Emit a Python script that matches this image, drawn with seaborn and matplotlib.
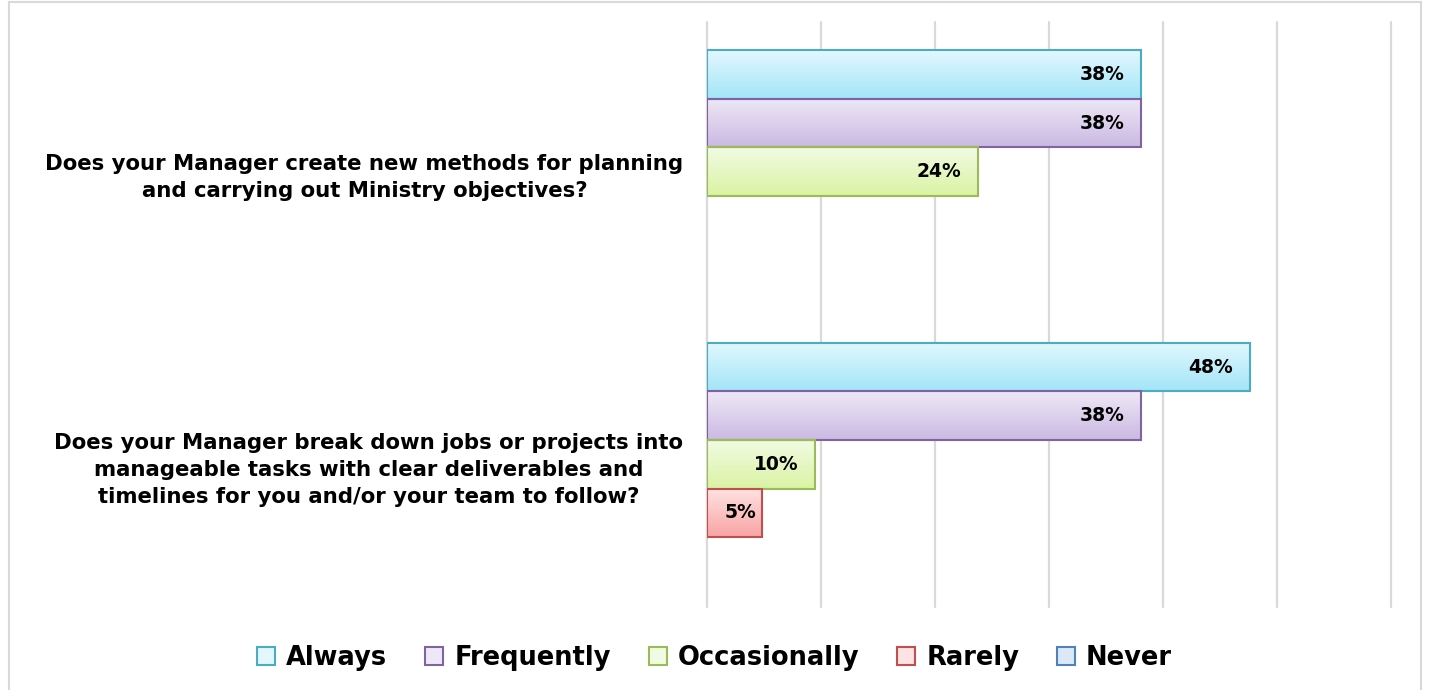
import numpy as np
import pandas as pd
import matplotlib
matplotlib.use("Agg")
import matplotlib.pyplot as plt
from matplotlib.patches import Patch, Rectangle
from matplotlib.colors import to_rgb
import seaborn as sns

questions = [
    "Does your Manager create new methods for planning\nand carrying out Ministry objectives?",
    "Does your Manager break down jobs or projects into\nmanageable tasks with clear deliverables and\ntimelines for you and/or your team to follow?",
]
responses = ["Always", "Frequently", "Occasionally", "Rarely", "Never"]
q1_values = [38.1, 38.1, 23.8, 0.0, 0.0]
q2_values = [47.6, 38.1, 9.5, 4.8, 0.0]

edge_colors = ["#4BACC6", "#8064A2", "#9BBB59", "#C0504D", "#4F81BD"]
top_colors = ["#E2F8FE", "#EEE8F6", "#F1FBE3", "#FFE3E3", "#DCE8F8"]
bottom_colors = ["#A3E5F8", "#CBB9E2", "#DAF3A3", "#F8A4A4", "#B3CCEE"]

df = pd.DataFrame({
    "question": np.repeat(questions, len(responses)),
    "response": responses * len(questions),
    "value": q1_values + q2_values,
})

sns.set_theme(style="white")
plt.rcParams["font.family"] = ["DejaVu Sans"]
plt.rcParams["text.color"] = "black"

fig = plt.figure(figsize=(14.29, 6.9), dpi=100)
ax = fig.add_axes([707 / 1429, 1 - 607 / 690, (1391 - 707) / 1429, (607 - 22) / 690])

pal = dict(zip(responses, top_colors))
sns.barplot(data=df, y="question", x="value", hue="response", hue_order=responses,
            order=questions, orient="h", palette=pal, width=0.83, gap=0,
            ax=ax, legend=False, errorbar=None, saturation=1)

ax.set_xlim(0, 60)
ylim = ax.get_ylim()
ax.set_ylim(ylim[0] - 0.012, ylim[1] - 0.012)
ylim = ax.get_ylim()

# gradient fills clipped to each bar
for cont, tc, bc, ec in zip(ax.containers, top_colors, bottom_colors, edge_colors):
    for bar in cont:
        w = bar.get_width()
        if w <= 0:
            bar.set_visible(False)
            continue
        x0, y0, h = bar.get_x(), bar.get_y(), bar.get_height()
        t = np.linspace(0, 1, 64)[:, None]
        grad = (1 - t) * np.array(to_rgb(tc)) + t * np.array(to_rgb(bc))
        img = ax.imshow(grad[:, None, :], extent=[x0, x0 + w, y0 + h, y0],
                        origin="upper", aspect="auto", zorder=2, interpolation="bilinear")
        img.set_clip_path(bar)
        bar.set_facecolor("none")
        bar.set_edgecolor(ec)
        bar.set_linewidth(1.5)
        bar.set_zorder(3)

# value labels
for cont in ax.containers:
    for bar in cont:
        w = bar.get_width()
        if w <= 0:
            continue
        yc = bar.get_y() + bar.get_height() / 2
        off = -17 if w > 8 else -5
        ax.annotate(f"{w:.0f}%", (w, yc), xytext=(off * 0.72, 0), textcoords="offset points",
                    ha="right", va="center", fontsize=13.5, fontweight="bold",
                    color="black", zorder=4)

ax.set_ylim(ylim)
ax.set_xticks(np.arange(0, 61, 10))
ax.set_xticklabels([])
ax.grid(axis="x", color="#D9D9D9", linewidth=1.6, zorder=0)
for gl in ax.get_xgridlines():
    gl.set_clip_on(False)
ax.set_axisbelow(True)
for s in ax.spines.values():
    s.set_visible(False)
ax.tick_params(axis="x", length=0)
ax.tick_params(axis="y", length=0, pad=17)
ax.set_xlabel("")
ax.set_ylabel("")
for lbl in ax.get_yticklabels():
    lbl.set_fontsize(15.3)
    lbl.set_fontweight("bold")
    lbl.set_multialignment("center")
    lbl.set_linespacing(1.43)
    lbl.set_color("black")

handles = [Patch(facecolor=tc, edgecolor=ec, linewidth=1.5, label=r)
           for r, tc, ec in zip(responses, top_colors, edge_colors)]
leg = fig.legend(handles=handles, loc="center", bbox_to_anchor=(0.5, 1 - 658 / 690), ncol=5,
                 frameon=False, prop={"size": 18.5, "weight": "bold"}, handlelength=0.7,
                 handleheight=0.7, handletextpad=0.43, columnspacing=1.48)
for txt in leg.get_texts():
    txt.set_color("black")

fig.patches.append(Rectangle((9 / 1429, -0.05), (1421 - 9) / 1429, 1.05 - 1.5 / 690,
                             transform=fig.transFigure, fill=False,
                             edgecolor="#D9D9D9", linewidth=1.5))

fig.savefig("out.png", dpi=100)
